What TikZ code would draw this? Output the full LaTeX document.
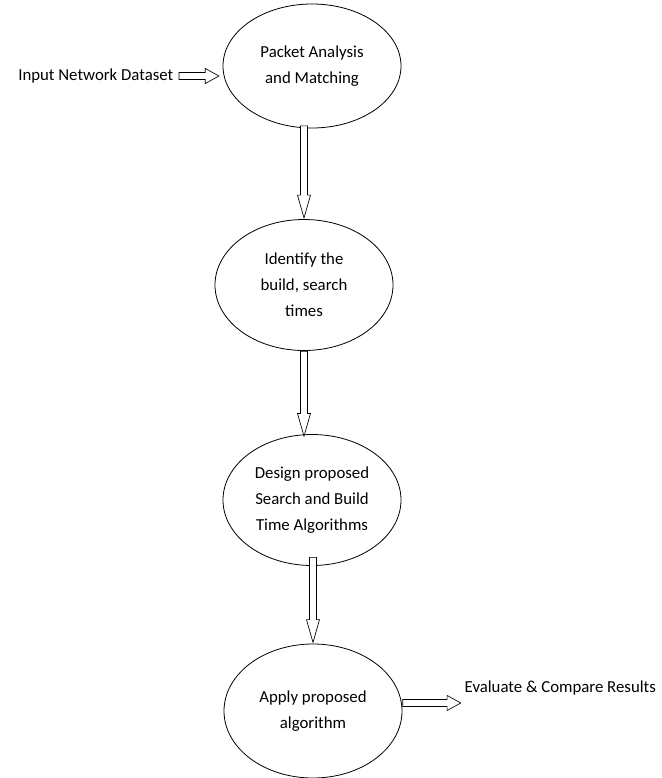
\documentclass[tikz,border=0pt]{standalone}
\usepackage{fontspec}
\setmainfont{Carlito}
\usetikzlibrary{shapes.geometric,shapes.arrows,positioning,calc}

\def \px {0.75pt}

\tikzset{
  stage/.style={ellipse, draw, line width=0.6pt, inner sep=0pt,
    minimum width=178*\px, minimum height=130*\px, align=center,
    font=\fontsize{12.6}{19.5}\selectfont},
  plain/.style={inner sep=0pt, font=\fontsize{12.6}{19.5}\selectfont},
  hollow/.style={single arrow, draw, line width=0.5pt, fill=white, inner sep=3.2*\px,
    minimum width=14*\px, single arrow head extend=4*\px,
    single arrow head indent=0pt, single arrow tip angle=58},
  hollowdown/.style={hollow, shape border rotate=270, single arrow tip angle=32,
    minimum width=12*\px, single arrow head extend=3*\px}
}

\begin{document}
\begin{tikzpicture}[x=\px, y=-\px]
         \useasboundingbox (0,0) rectangle (661,778);
         % stages
         \node[stage, minimum height=124*\px] (pam) at (312,66) {Packet Analysis\\and Matching};
         \node[stage, minimum height=131*\px] (ident) at (304,285) {Identify the\\build, search\\times};
         \node[stage, minimum height=131*\px] (design) at (312,500) {Design proposed\\Search and Build\\Time Algorithms};
         \node[stage, minimum height=134*\px] (apply) at (313,711) {Apply proposed\\algorithm};
         % input and output
         \node[plain, anchor=west] (input) at (18,76) {Input Network Dataset};
         \node[hollow, minimum height=40*\px, right=5*\px of input] (a0) {};
         \node[hollow, minimum height=58*\px, anchor=west] (a4) at ([yshift=6]apply.east) {};
         \node[plain, right=3*\px of a4, yshift=11] (eval) {Evaluate \& Compare Results};
         % flow
         \node[hollowdown, minimum height=92*\px, anchor=tip] (a1) at (ident.north) {};
         \node[hollowdown, minimum height=85*\px, anchor=tail] (a2) at (ident.south) {};
         \node[hollowdown, minimum height=85*\px, anchor=tip] (a3) at (apply.north) {};
      \end{tikzpicture}
\end{document}
